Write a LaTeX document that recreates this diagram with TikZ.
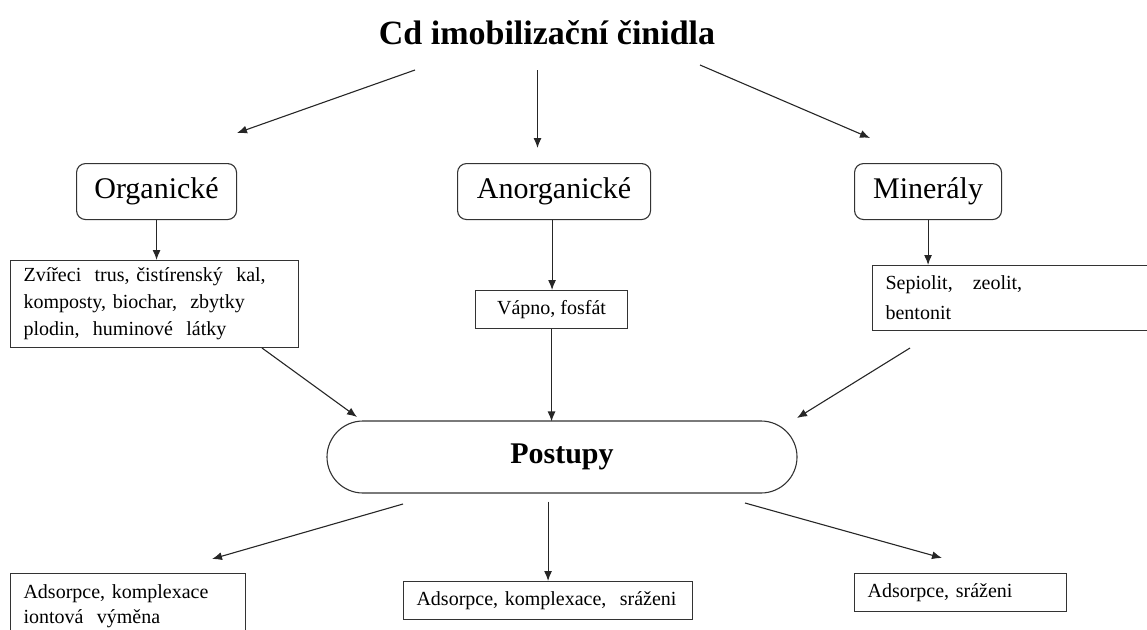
\documentclass[tikz,border=0pt]{standalone}
\usepackage{fontspec}
\setmainfont{Liberation Serif}
\usetikzlibrary{arrows.meta}
\begin{document}
\begin{tikzpicture}[x=1pt,y=-1pt,
 line/.style={draw=black!80,line width=1.1pt},
 arr/.style={draw=black!85,line width=1.1pt,-{Latex[length=10pt,width=8pt]}},
 catbox/.style={line, rounded corners=9pt, inner sep=0pt, anchor=north west, font=\fontsize{30}{34}\selectfont},
 smallbox/.style={line, inner xsep=13pt, inner ysep=0pt, anchor=north west, align=left, font=\fontsize{20}{25}\selectfont},
]
\useasboundingbox (0,0) rectangle (1147,629);

\node[font=\bfseries\fontsize{34}{40}\selectfont] (title) at (547,33) {Cd imobilizační činidla};

\node[catbox, minimum width=160pt, minimum height=56pt] (org) at (76,163) {Organické};
\node[catbox, minimum width=193pt, minimum height=56pt] (anorg) at (457,163) {Anorganické};
\node[catbox, minimum width=147pt, minimum height=56pt] (min) at (854,163) {Minerály};

\node[smallbox, minimum width=288pt, minimum height=87pt, text width=262pt,
 font=\fontsize{20}{27}\selectfont] (orgitems) at (10,260)
 {Zvířeci\ \ trus, čistírenský\ \ kal,\\ komposty, biochar,\ \ zbytky\\ plodin,\ \ huminové\ \ látky};
\node[smallbox, minimum width=152pt, minimum height=38pt, align=center, inner xsep=4pt] (vapno) at (475,290) {Vápno, fosfát};
\node[smallbox, minimum width=290pt, minimum height=65pt, text width=264pt,
 font=\fontsize{20}{30}\selectfont] (sep) at (872,265)
 {Sepiolit,\ \ \ zeolit,\\ bentonit};

\node[line, rounded corners=36pt, minimum width=470pt, minimum height=72pt, inner sep=0pt,
 font=\bfseries\fontsize{30}{36}\selectfont] (post) at (562,457) {Postupy};

\node[smallbox, minimum width=235pt, minimum height=66pt, text width=209pt] (b1) at (10,573)
 {Adsorpce, komplexace\\ iontová\ \ výměna};
\node[smallbox, minimum width=289pt, minimum height=38pt, text width=263pt] (b2) at (403,581)
 {Adsorpce, komplexace,\ \ sráženi};
\node[smallbox, minimum width=212pt, minimum height=38pt, text width=186pt] (b3) at (854,573)
 {Adsorpce, sráženi};

% connector end points
\coordinate (t1) at (415,70);    \coordinate (o1) at (237,133);
\coordinate (t2) at (537.5,70);  \coordinate (o2) at (537.5,148);
\coordinate (t3) at (700,65);    \coordinate (o3) at (870,138);
\coordinate (p1) at (262,348);   \coordinate (q1) at (357,417);
\coordinate (p3) at (910,348);   \coordinate (q3) at (797,418);
\coordinate (r1) at (403,504);   \coordinate (s1) at (212,559);
\coordinate (r3) at (745,503);   \coordinate (s3) at (942,558);

\draw[arr] (t1) -- (o1);
\draw[arr] (t2) -- (o2);
\draw[arr] (t3) -- (o3);

\draw[arr] (org.south) -- (org.south |- orgitems.north);
\draw[arr] ([xshift=-2pt]anorg.south) -- ([xshift=-2pt]anorg.south |- vapno.north);
\draw[arr] (min.south) -- (min.south |- sep.north);

\draw[arr] (p1) -- (q1);
\draw[arr] (vapno.south) -- ([yshift=-1pt]vapno.south |- post.north);
\draw[arr] (p3) -- (q3);

\draw[arr] (r1) -- (s1);
\draw[arr] ([yshift=-8pt]post.south -| b2.north) -- (b2.north);
\draw[arr] (r3) -- (s3);
\end{tikzpicture}
\end{document}
